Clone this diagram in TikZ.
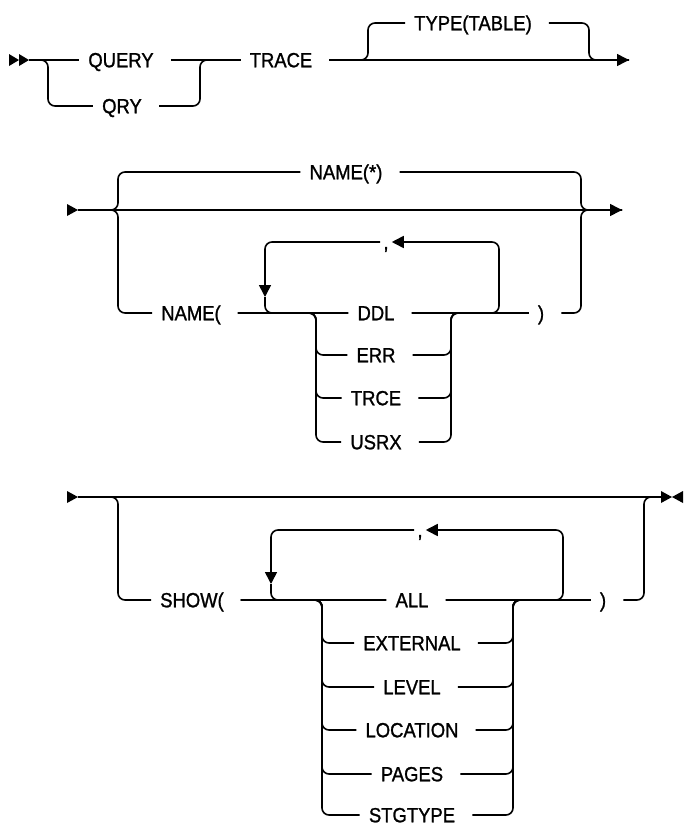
\documentclass[tikz,border=0pt]{standalone}
\usepackage{fontspec}
\setmainfont[FakeStretch=0.9,FakeBold=1.2]{Liberation Sans}
\usetikzlibrary{arrows.meta}

\begin{document}
\begin{tikzpicture}[
    x=1pt, y=-1pt,
    kw/.style={
        inner xsep=9pt,
        inner ysep=0pt,
        text height=14.5pt,
        text depth=0pt,
        font=\fontsize{20.5}{22}\selectfont,
        execute at end node={\hspace{8pt}}
    },
    sepmark/.style={
        inner xsep=3pt,
        inner ysep=0pt,
        text height=14.5pt,
        text depth=0pt,
        font=\fontsize{20.5}{22}\selectfont
    },
    rail/.style={line width=1.6pt, rounded corners=7pt},
    arrow/.style={rail, -{Triangle[length=12pt,width=12pt]}}
]
\useasboundingbox (0,0) rectangle (683,827);

% first line
\fill (9,54) -- (19,60) -- (9,66) -- cycle;
\fill (19,54) -- (29,60) -- (19,66) -- cycle;
\coordinate (s1) at (29,60);
\coordinate (l1) at (48,60);
\coordinate (j1) at (200,60);
\coordinate (o1) at (368,60);
\coordinate (r1) at (589,60);
\coordinate (e1) at (629,60);

\node[kw] (query) at (125,60) {QUERY};
\node[kw] (qry) at (126,106) {QRY};
\node[kw] (trace) at (285,60) {TRACE};
\node[kw] (typetab) at (477,23) {TYPE(TABLE)};

\draw[rail] (s1) -- (query);
\draw[rail] (s1) -- (l1) |- (qry);
\draw[rail] (query) -- (trace);
\draw[rail] (qry) -| (j1) -- (trace);
\draw[arrow] (trace) -- (e1);
\draw[rail] (trace) -- (o1) |- (typetab);
\draw[rail] (typetab) -| (r1) -- (e1);

% second line
\fill (67,204) -- (78,210) -- (67,216) -- cycle;
\coordinate (s2) at (78,210);
\coordinate (l2) at (118,210);
\coordinate (r2) at (581,210);
\coordinate (e2) at (622,210);
\coordinate (cl2) at (316,313);
\coordinate (cr2) at (451,313);
\coordinate (ll2) at (265,313);
\coordinate (lr2) at (499,313);
\coordinate (dn2) at (265,297);

\node[kw] (namestar) at (350,172) {NAME(*)};
\node[kw] (nameopen) at (195,313) {NAME(};
\node[kw] (ddl) at (380,313) {DDL};
\node[kw] (err) at (380,355) {ERR};
\node[kw] (trce) at (380,398) {TRCE};
\node[kw] (usrx) at (380,442) {USRX};
\node[kw] (nameclose) at (545,313) {)};
\node[sepmark] (comma2) at (386,242) {,};

\draw[arrow] (s2) -- (e2);
\draw[rail] (s2) -- (l2) |- (namestar);
\draw[rail] (namestar) -| (r2) -- (e2);
\draw[rail] (s2) -- (l2) |- (nameopen);
\draw[rail] (nameopen) -- (ddl);
\draw[rail] (ddl) -- (nameclose);
\foreach \opt in {err,trce,usrx} {
    \draw[rail] (nameopen) -- (cl2) |- (\opt);
    \draw[rail] (\opt) -| (cr2) -- (nameclose);
}
\draw[arrow] (ddl) -- (lr2) |- (comma2);
\draw[arrow] (comma2) -| (dn2);
\draw[rail] (dn2) -- (ll2) -- (ddl);
\draw[rail] (nameclose) -| (r2) -- (e2);

% third line
\fill (67,491) -- (78,497) -- (67,503) -- cycle;
\fill (661,491) -- (672,497) -- (661,503) -- cycle;
\fill (683,491) -- (672,497) -- (683,503) -- cycle;
\coordinate (s3) at (78,497);
\coordinate (l3) at (118,497);
\coordinate (r3) at (644,497);
\coordinate (e3) at (661,497);
\coordinate (cl3) at (322,600);
\coordinate (cr3) at (513,600);
\coordinate (ll3) at (271,600);
\coordinate (lr3) at (563,600);
\coordinate (dn3) at (271,584);

\node[kw] (showopen) at (196,600) {SHOW(};
\node[kw] (all) at (416,600) {ALL};
\node[kw] (external) at (416,643) {EXTERNAL};
\node[kw] (level) at (416,687) {LEVEL};
\node[kw] (location) at (416,730) {LOCATION};
\node[kw] (pages) at (416,774) {PAGES};
\node[kw] (stgtype) at (416,815) {STGTYPE};
\node[kw] (showclose) at (607,600) {)};
\node[sepmark] (comma3) at (420,530) {,};

\draw[rail] (s3) -- (e3);
\draw[rail] (s3) -- (l3) |- (showopen);
\draw[rail] (showopen) -- (all);
\draw[rail] (all) -- (showclose);
\foreach \opt in {external,level,location,pages,stgtype} {
    \draw[rail] (showopen) -- (cl3) |- (\opt);
    \draw[rail] (\opt) -| (cr3) -- (showclose);
}
\draw[arrow] (all) -- (lr3) |- (comma3);
\draw[arrow] (comma3) -| (dn3);
\draw[rail] (dn3) -- (ll3) -- (all);
\draw[rail] (showclose) -| (r3) -- (e3);

\end{tikzpicture}
\end{document}
